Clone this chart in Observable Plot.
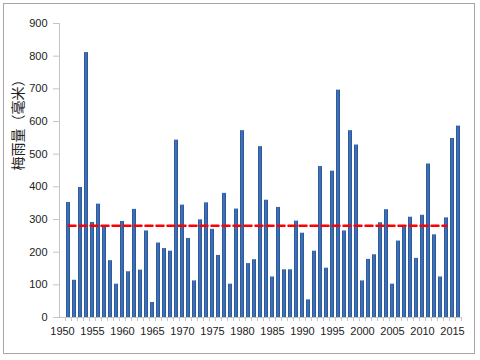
<!DOCTYPE html>
<html>
<head>
<meta charset="utf-8">
<script src="https://cdn.jsdelivr.net/npm/d3@7"></script>
<script src="https://cdn.jsdelivr.net/npm/@observablehq/plot@0.6"></script>
<style>
  html, body { margin: 0; padding: 0; background: #fff; }
  #wrap { position: relative; width: 480px; height: 360px; }
  #border { position: absolute; left: 3px; top: 3px; width: 472px; height: 351px; border: 1px solid #a6a6a6; box-sizing: border-box; pointer-events: none; }
  svg { display: block; }
</style>
</head>
<body>
<div id="wrap"><div id="chart"></div><div id="border"></div></div>
<script>
const years = d3.range(1951, 2017);
const rainfall = [
  352, 114, 398, 811, 291, 347, 279, 174, 102, 294,
  140, 331, 145, 265, 46, 228, 211, 203, 543, 344,
  242, 112, 299, 351, 270, 190, 380, 102, 332, 572,
  165, 177, 523, 359, 124, 337, 146, 146, 295, 258,
  54, 203, 462, 151, 448, 696, 265, 572, 528, 112,
  178, 192, 290, 330, 102, 234, 280, 307, 181, 313,
  470, 253, 124, 305, 548, 586
];
const axisYears = d3.range(1950, 2017);
const xTickLabels = d3.range(1950, 2020, 5);
const yTicks = d3.range(0, 1000, 100);
const meanValue = 281;
const meanStart = 1951;
const meanEnd = 2014;
const yLabel = "梅雨量（毫米）";

const data = years.map((y, i) => ({year: y, value: rainfall[i]}));
const meanLine = [{year: meanStart, value: meanValue}, {year: meanEnd, value: meanValue}];

const defs = () => {
  const svg = d3.create("svg:defs");
  const g = svg.append("linearGradient").attr("id", "barGrad").attr("x1", "0").attr("x2", "1").attr("y1", "0").attr("y2", "0");
  g.append("stop").attr("offset", "0%").attr("stop-color", "#24508f");
  g.append("stop").attr("offset", "45%").attr("stop-color", "#4679c2");
  g.append("stop").attr("offset", "100%").attr("stop-color", "#24508f");
  return svg.node();
};

const yAxisLine = (index, scales, values, dims) => {
  const y = scales.y;
  const g = d3.create("svg:line")
    .attr("x1", dims.marginLeft + 0.5).attr("x2", dims.marginLeft + 0.5)
    .attr("y1", y(yTicks[yTicks.length - 1])).attr("y2", y(0))
    .attr("stroke", "#c4c4c4");
  return g.node();
};

const chart = Plot.plot({
  width: 480,
  height: 360,
  marginLeft: 59,
  marginRight: 19,
  marginTop: 23,
  marginBottom: 43,
  style: {fontFamily: "'Liberation Sans', Arial, sans-serif", fontSize: "11px", background: "transparent"},
  x: {type: "band", domain: axisYears, paddingInner: 0.33, paddingOuter: 0.16, axis: null},
  y: {domain: [0, 900], axis: null},
  marks: [
    defs,
    Plot.barY(data, {x: "year", y: "value", fill: "url(#barGrad)"}),
    Plot.ruleY([0], {stroke: "#c4c4c4"}),
    Plot.axisX(axisYears, {tickSize: 4, text: null, stroke: "#c4c4c4", dx: 3, label: null}),
    Plot.axisX(xTickLabels, {tickSize: 0, tickPadding: 10, fill: "#222", label: null, fontSize: 11, tickFormat: d => String(d)}),
    Plot.axisY(yTicks, {tickSize: 6, tickPadding: 6, stroke: "#c4c4c4", fill: "#222", label: null, fontSize: 11}),
    yAxisLine,
    Plot.lineY(meanLine, {x: "year", y: "value", stroke: "#ff0000", strokeWidth: 2.5, strokeDasharray: "7,4"}),
    Plot.text([yLabel], {frameAnchor: "left", rotate: -90, dx: -41, fontSize: 14, fontFamily: "'Noto Sans CJK SC', sans-serif", fill: "#222"})
  ]
});
document.getElementById("chart").appendChild(chart);
</script>
</body>
</html>
